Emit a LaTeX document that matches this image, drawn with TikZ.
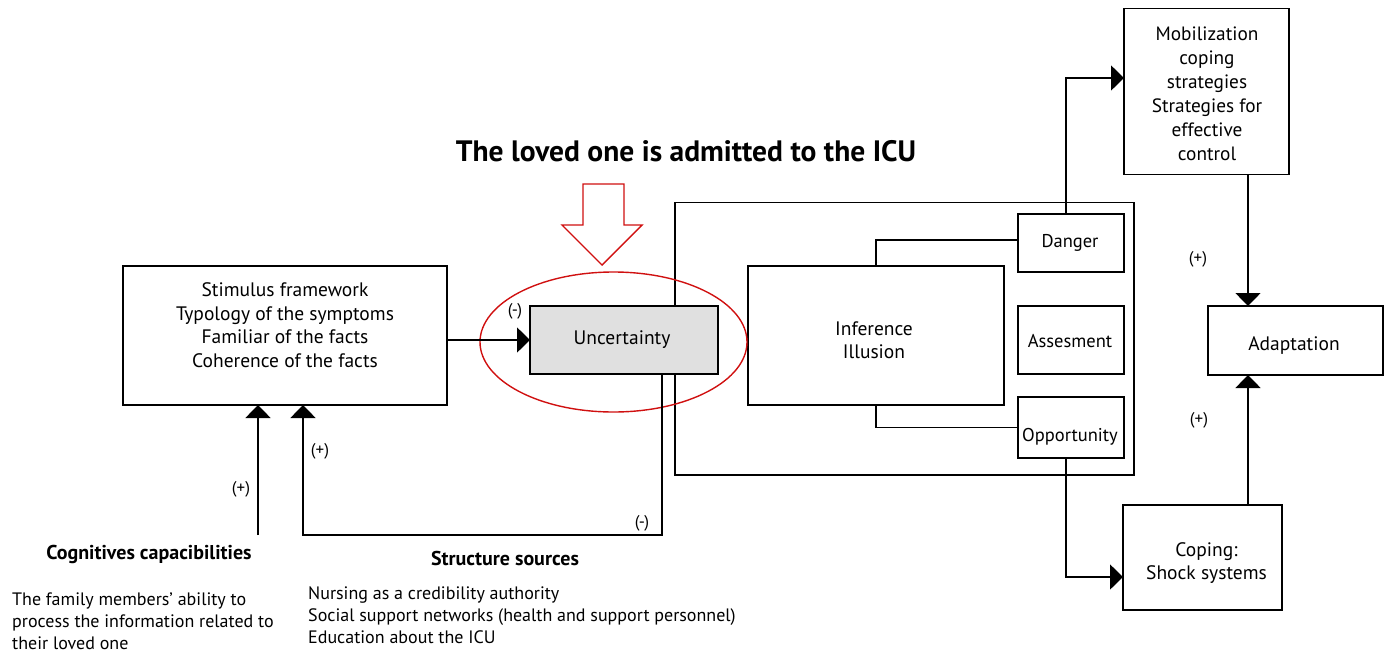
\documentclass[tikz,border=0pt]{standalone}
\usepackage{fontspec}
\setmainfont{PT Sans}
\usetikzlibrary{arrows.meta}
\definecolor{ured}{HTML}{D01010}
\definecolor{ugray}{HTML}{E0E0E0}
\begin{document}
\begin{tikzpicture}[x=1pt,y=-1pt,
  box/.style={draw, line width=1.6pt, inner sep=0pt, outer sep=0pt},
  txt/.style={font=\fontsize{19.5}{23.5}\selectfont, align=center, inner sep=0pt},
  stxt/.style={font=\fontsize{18.5}{21}\selectfont, align=center, inner sep=0pt},
  small/.style={font=\fontsize{17}{19}\selectfont, inner sep=0pt},
  head/.style={font=\bfseries\fontsize{20}{22}\selectfont, inner sep=0pt},
  desc/.style={font=\fontsize{18}{22}\selectfont, align=left, anchor=west, inner sep=0pt},
  conn/.style={line width=1.6pt},
  arr/.style={line width=1.6pt, -{Triangle[length=13pt,width=25pt]}}]
\useasboundingbox (0,0) rectangle (1388,653);

% title and red arrow
\node[font=\bfseries\fontsize{29.5}{32}\selectfont, inner sep=0pt] (title) at (686,151) {The loved one is admitted to the ICU};
\draw[ured, line width=1.4pt, line join=miter] (583,184) -- (624,184) -- (624,225) -- (642,225) -- (602,265) -- (562,225) -- (583,225) -- cycle;

% boxes
\node[box, minimum width=324pt, minimum height=139pt] (stim) at (285,335.5) {};
\node[txt] (stimtxt) at (285,325) {Stimulus framework\\Typology of the symptoms\\Familiar of the facts\\Coherence of the facts};

\node[box, minimum width=459pt, minimum height=272.5pt] (outer) at (904.5,338.75) {};
\node[box, fill=ugray, minimum width=188pt, minimum height=68.5pt] (unc) at (624,340) {};
\node[txt] (unctxt) at (622,340) {Uncertainty};

\node[box, minimum width=256pt, minimum height=139pt] (inf) at (876,335.5) {};
\node[txt] (inftxt) at (874,340) {Inference\\Illusion};

\node[box, minimum width=106pt, minimum height=58pt] (danger) at (1071,243) {};
\node[stxt] (dangertxt) at (1070,243) {Danger};
\node[box, minimum width=106pt, minimum height=68.5pt] (assess) at (1071,340) {};
\node[stxt] (assesstxt) at (1070,341) {Assesment};
\node[box, minimum width=106pt, minimum height=61.5pt] (opp) at (1071,427.5) {};
\node[stxt] (opptxt) at (1070,437) {Opportunity};

\node[box, minimum width=165pt, minimum height=166pt] (mob) at (1206.5,91.6) {};
\node[txt, font=\fontsize{19.3}{24}\selectfont] (mobtxt) at (1207,93.5) {Mobilization\\coping\\strategies\\Strategies for\\effective\\control};
\node[box, minimum width=175pt, minimum height=69pt] (adapt) at (1295.5,340.5) {};
\node[txt] (adapttxt) at (1294,346) {Adaptation};
\node[box, minimum width=159pt, minimum height=105pt] (coping) at (1202.5,557.5) {};
\node[txt] (copingtxt) at (1206.5,563) {Coping:\\Shock systems};

% ellipse
\draw[ured, line width=1.4pt] (613.5,342) ellipse [x radius=133.5pt, y radius=70pt];

% connectors
\draw[arr] (stim.east |- unc.west) -- (unc.west);
\coordinate (fbR) at (662,535);
\coordinate (fbL) at (303,535);
\coordinate (cog) at (258,535);
\draw[arr] (unc.south -| fbR) -- (fbR) -- (fbL) -- (stim.south -| fbL);
\draw[arr] (cog) -- (stim.south -| cog);

\coordinate (dk) at (876,240);
\draw[conn] (inf.north) -- (dk) -- (danger.west |- dk);
\draw[conn] (inf.south) |- (opp.west);

\coordinate (up1) at (1066,78);
\draw[arr] (danger.north -| up1) -- (up1) -- (mob.west |- up1);
\coordinate (dn1) at (1066,577);
\draw[arr] (opp.south -| dn1) -- (dn1) -- (coping.west |- dn1);
\coordinate (ax) at (1248,0);
\draw[arr] (mob.south -| ax) -- (adapt.north -| ax);
\draw[arr] (coping.north -| ax) -- (adapt.south -| ax);

% signs
\node[small] (m1) at (515,311) {(-)};
\node[small] (m2) at (642,523) {(-)};
\node[small] (p1) at (241,489) {(+)};
\node[small] (p2) at (320,451) {(+)};
\node[small] (p3) at (1198,259) {(+)};
\node[small] (p4) at (1199,420) {(+)};

% bottom texts
\node[head] (cogh) at (149,554) {Cognitives capacibilities};
\node[head] (strh) at (505,558) {Structure sources};
\node[desc] (cogd) at (12,621) {The family members’ ability to\\process the information related to\\their loved one};
\node[desc] (strd) at (308,615) {Nursing as a credibility authority\\Social support networks (health and support personnel)\\Education about the ICU};
\end{tikzpicture}
\end{document}
